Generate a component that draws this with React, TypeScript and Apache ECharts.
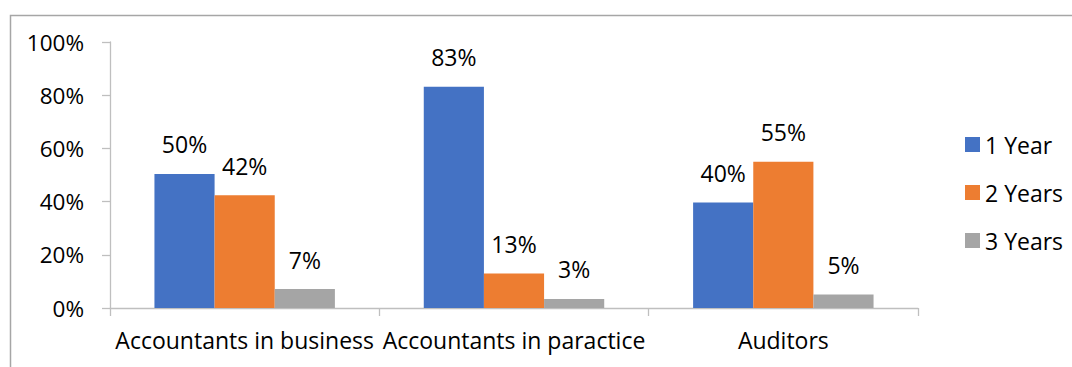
import React, { useEffect, useRef } from "react";
import * as echarts from "echarts";

const categories = ["Accountants in business", "Accountants in paractice", "Auditors"];
const seriesNames = ["1 Year", "2 Years", "3 Years"];
const oneYear = [50.4, 83.2, 39.7];
const twoYears = [42.4, 13.0, 55.0];
const threeYears = [7.1, 3.4, 5.1];
const yTicks = [0, 20, 40, 60, 80, 100];
const colors = ["#4472C4", "#ED7D31", "#A5A5A5"];

const FONT = "'Open Sans', sans-serif";

export default function App() {
  const ref = useRef<HTMLDivElement>(null);
  useEffect(() => {
    if (!ref.current) return;
    const chart = echarts.init(ref.current, undefined, { renderer: "svg" });
    const values = [oneYear, twoYears, threeYears];
    chart.setOption({
      animation: false,
      backgroundColor: "#ffffff",
      textStyle: { fontFamily: FONT },
      grid: { left: 110, right: 154, top: 42, bottom: 59, containLabel: false },
      legend: {
        orient: "vertical",
        left: 960,
        top: 128,
        itemWidth: 15,
        itemHeight: 15,
        itemGap: 25,
        icon: "rect",
        data: seriesNames,
        textStyle: { fontFamily: FONT, fontSize: 23, color: "#000", lineHeight: 23 },
      },
      xAxis: {
        type: "category",
        data: categories,
        axisLine: { lineStyle: { color: "#BFBFBF", width: 1.3 } },
        axisTick: { show: true, length: 8, alignWithLabel: false, lineStyle: { color: "#BFBFBF", width: 1.3 } },
        axisLabel: { interval: 0, fontFamily: FONT, fontSize: 23, color: "#000", margin: 20 },
        splitLine: { show: false },
      },
      yAxis: {
        type: "value",
        min: yTicks[0],
        max: yTicks[yTicks.length - 1],
        interval: 20,
        axisLine: { show: true, lineStyle: { color: "#BFBFBF", width: 1.3 } },
        axisTick: { show: true, length: 8, lineStyle: { color: "#BFBFBF", width: 1.3 } },
        axisLabel: { fontFamily: FONT, fontSize: 22.5, color: "#000", margin: 26, formatter: (v: number) => `${v}%` },
        splitLine: { show: false },
      },
      series: seriesNames.map((name, i) => ({
        name,
        type: "bar",
        data: values[i],
        barGap: "0%",
        barCategoryGap: "33%",
        itemStyle: { color: colors[i] },
        label: {
          show: true,
          position: "top",
          distance: 18,
          fontFamily: FONT,
          fontSize: 23,
          color: "#000",
          formatter: (p: any) => `${Math.round(p.value)}%`,
        },
      })),
      graphic: [
        {
          type: "rect",
          left: 8,
          top: 13,
          shape: { x: 0, y: 0, width: 1200, height: 500 },
          style: { fill: "none", stroke: "#A6A6A6", lineWidth: 1.5 },
          silent: true,
          z: 100,
        },
      ],
    });
    return () => chart.dispose();
  }, []);
  return (
    <div
      ref={ref}
      style={{ position: "fixed", left: 0, top: 0, width: 1072, height: 367 }}
    />
  );
}
